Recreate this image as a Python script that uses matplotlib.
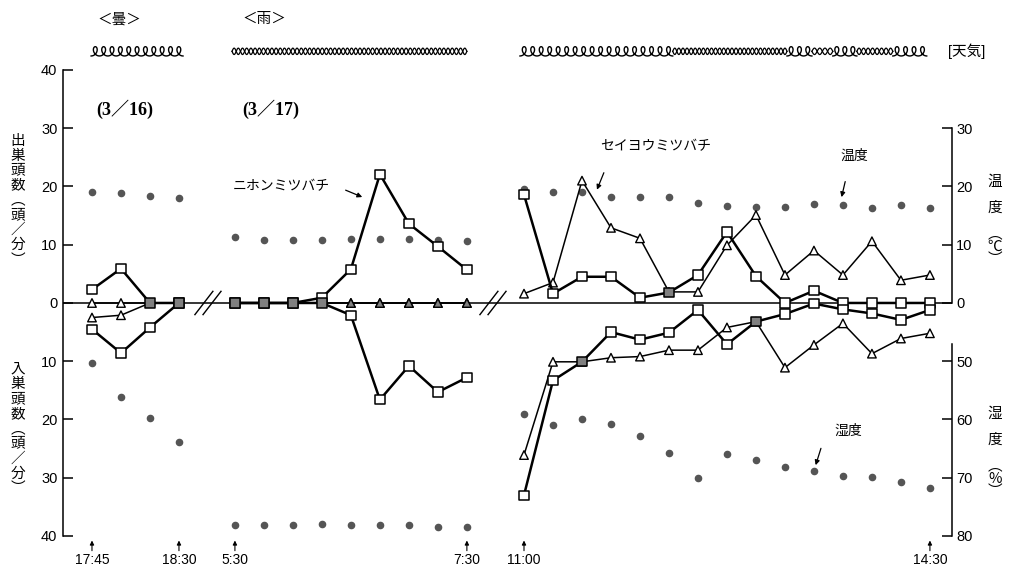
import numpy as np
import matplotlib
matplotlib.use("Agg")
import matplotlib.pyplot as plt

plt.rcParams["font.family"] = ["Liberation Sans", "Noto Sans CJK JP", "DejaVu Sans"]

# readings every 15 minutes
times_0316 = ["17:45", "18:00", "18:15", "18:30"]
times_0317am = ["5:30", "5:45", "6:00", "6:15", "6:30", "6:45", "7:00", "7:15", "7:30"]
times_0317pm = ["11:00", "11:15", "11:30", "11:45", "12:00", "12:15", "12:30", "12:45",
                "13:00", "13:15", "13:30", "13:45", "14:00", "14:15", "14:30"]

# ニホンミツバチ (squares), bees per minute leaving / entering the hive
nihon_out_0316 = [2.3, 5.9, 0, 0]
nihon_in_0316 = [4.5, 8.6, 4.2, 0]
nihon_out_0317am = [0, 0, 0, 0.9, 5.8, 22.1, 13.6, 9.7, 5.7]
nihon_in_0317am = [0, 0, 0, 0, 2.1, 16.6, 10.8, 15.3, 12.8]
nihon_out_0317pm = [18.6, 1.6, 4.5, 4.5, 0.9, 1.8, 4.8, 12.2, 4.6, 0, 2.1, 0, 0, 0, 0]
nihon_in_0317pm = [33.0, 13.3, 10.1, 5.0, 6.3, 5.1, 1.2, 7.1, 3.2, 1.9, 0.1, 1.1, 1.8, 2.9, 1.2]

# セイヨウミツバチ (triangles)
seiyou_out_0316 = [0, 0, 0, 0]
seiyou_in_0316 = [2.5, 2.1, 0, 0]
seiyou_out_0317am = [0, 0, 0, 0, 0, 0, 0, 0, 0]
seiyou_in_0317am = [0, 0, 0, 0, 0, 0, 0, 0, 0]
seiyou_out_0317pm = [1.6, 3.5, 21.0, 12.9, 11.1, 1.9, 1.9, 9.9, 15.1, 4.8, 9.0, 4.8, 10.6, 3.9, 4.8]
seiyou_in_0317pm = [26.1, 10.1, 10.1, 9.4, 9.2, 8.1, 8.1, 4.2, 3.2, 11.1, 7.2, 3.5, 8.7, 6.1, 5.2]

# temperature (°C) and humidity (%)
temp_0316 = [19.0, 18.8, 18.4, 18.1]
temp_0317am = [11.4, 10.8, 10.8, 10.8, 10.9, 11.0, 10.9, 10.8, 10.6]
temp_0317pm = [19.5, 19.1, 19.1, 18.2, 18.2, 18.2, 17.1, 16.6, 16.5, 16.5, 17.0, 16.8, 16.3, 16.8, 16.3]
humid_0316 = [50.3, 56.1, 59.8, 63.8]
humid_0317am = [78.1, 78.1, 78.1, 78.0, 78.1, 78.1, 78.1, 78.4, 78.4]
humid_0317pm = [59.0, 61.0, 60.0, 60.7, 62.9, 65.8, 70.1, 65.9, 66.9, 68.1, 68.9, 69.7, 69.9, 70.7, 71.7]

# weather strip: (kind, start, end) on the x slot scale
weather = [("cloud", -0.03, 3.14), ("rain", 4.83, 12.93),
           ("cloud", 14.76, 20.03), ("rain", 20.03, 23.97), ("cloud", 23.97, 24.83),
           ("rain", 24.83, 25.55), ("cloud", 25.55, 26.38), ("rain", 26.38, 27.62),
           ("cloud", 27.62, 28.79)]

groups = [
    dict(times=times_0316, start=0.0,
         n_out=nihon_out_0316, n_in=nihon_in_0316, s_out=seiyou_out_0316, s_in=seiyou_in_0316,
         temp=temp_0316, humid=humid_0316),
    dict(times=times_0317am, start=4.93,
         n_out=nihon_out_0317am, n_in=nihon_in_0317am, s_out=seiyou_out_0317am, s_in=seiyou_in_0317am,
         temp=temp_0317am, humid=humid_0317am),
    dict(times=times_0317pm, start=14.9,
         n_out=nihon_out_0317pm, n_in=nihon_in_0317pm, s_out=seiyou_out_0317pm, s_in=seiyou_in_0317pm,
         temp=temp_0317pm, humid=humid_0317pm),
]

fig = plt.figure(figsize=(10.11, 5.73), dpi=100)
ax = fig.add_axes([0.0623, 0.0646, 0.8793, 0.8133])
ax_t = ax.twinx()
ax_h = ax.twinx()
ax.set_zorder(ax_h.get_zorder() + 1)
ax.patch.set_visible(False)

ax.set_xlim(-1.0, 29.66)
ax.set_ylim(-40, 40)
ax_t.set_ylim(-40, 40)
ax_h.set_ylim(80, 0)

GREY = "#808080"


def faces(own, others, tol=0.6):
    return [GREY if any(abs(v - o[i]) < tol for o in others) else "white"
            for i, v in enumerate(own)]


for g in groups:
    x = g["start"] + np.arange(len(g["times"]))
    n_out = np.array(g["n_out"], float)
    n_in = -np.array(g["n_in"], float)
    s_out = np.array(g["s_out"], float)
    s_in = -np.array(g["s_in"], float)

    for y, others in [(s_out, [s_in]), (s_in, [s_out])]:
        ax.plot(x, y, color="black", lw=1.1, zorder=2)
        ax.scatter(x, y, marker="^", s=38, facecolors=faces(y, others),
                   edgecolors="black", linewidths=1.0, zorder=3)
    for y, others in [(n_out, [n_in, s_out, s_in]), (n_in, [n_out, s_out, s_in])]:
        ax.plot(x, y, color="black", lw=1.8, zorder=4)
        ax.scatter(x, y, marker="s", s=45, facecolors=faces(y, others),
                   edgecolors="black", linewidths=1.1, zorder=5)

    ax_t.scatter(x, g["temp"], s=20, color="#555555", zorder=1)
    ax_h.scatter(x, g["humid"], s=20, color="#555555", zorder=1)

    # first / last time of each run
    for xi, label in [(x[0], g["times"][0]), (x[-1], g["times"][-1])]:
        ax.annotate("", xy=(xi, -40.3), xytext=(xi, -43.0), annotation_clip=False,
                    arrowprops=dict(arrowstyle="-|>", lw=0.8, color="black", mutation_scale=6))
        ax.text(xi, -44.2, label, ha="center", va="center", fontsize=10, clip_on=False)

# zero line with axis breaks
ax.axhline(0, color="black", lw=1.1, zorder=1)
for xb in [4.0, 13.83]:
    for dx in [-0.14, 0.14]:
        ax.plot([xb + dx - 0.31, xb + dx + 0.31], [-2.0, 2.0], color="black", lw=1.0,
                clip_on=False, zorder=6)

# weather strip: loops for cloudy, twisted pair for rain
for kind, x0, x1 in weather:
    period = 0.29
    n = max(1, int(round((x1 - x0) / period)))
    if kind == "cloud":
        t = np.linspace(np.pi, np.pi + 2 * np.pi * n, 80 * n)
        a = (x1 - x0) / (2 * np.pi * n)
        xs = x0 + a * (t - np.pi) - 0.13 * np.sin(t)
        ys = 43.2 + 0.8 * np.cos(t)
        ax.plot(xs, ys, color="black", lw=1.0, clip_on=False)
    else:
        xs = np.linspace(x0, x1, 60 * n)
        ph = 2 * np.pi * (xs - x0) / ((x1 - x0) / n)
        for sgn in [1, -1]:
            ax.plot(xs, 43.2 + sgn * 0.55 * np.sin(ph), color="black", lw=0.9, clip_on=False)

# left axis
for side in ["top", "right", "bottom"]:
    ax.spines[side].set_visible(False)
ax.spines["left"].set_bounds(-40, 40)
ax.spines["left"].set_linewidth(1.1)
ax.set_yticks(range(-40, 41, 10))
ax.set_yticklabels([str(abs(v)) for v in range(-40, 41, 10)])
ax.tick_params(axis="y", direction="in", length=7, width=1.1, labelsize=10.5, pad=4)
ax.set_xticks([])

# right axes: temperature on top, humidity below
for a_, bounds, ticks in [(ax_t, (0, 30), [0, 10, 20, 30]), (ax_h, (47, 80), [50, 60, 70, 80])]:
    for side in ["top", "left", "bottom"]:
        a_.spines[side].set_visible(False)
    a_.spines["right"].set_bounds(*bounds)
    a_.spines["right"].set_linewidth(1.1)
    a_.set_yticks(ticks)
    a_.tick_params(axis="y", direction="in", length=7, width=1.1, labelsize=10.5, pad=3)

cjk = ["Noto Sans CJK JP"]
ax.text(-2.55, 17.6, "\n".join("出巣頭数︵頭／分︶"), ha="center", va="center",
        fontsize=10.5, family=cjk, linespacing=1.08)
ax.text(-2.55, -21.6, "\n".join("入巣頭数︵頭／分︶"), ha="center", va="center",
        fontsize=10.5, family=cjk, linespacing=1.08)
ax.text(31.14, 18.6, "温\n度", ha="center", va="center", fontsize=10.5, family=cjk, linespacing=2.1)
ax.text(31.14, 9.6, "︵\n℃\n︶", ha="center", va="center", fontsize=10.5, family=cjk, linespacing=0.85)
ax.text(31.14, -21.2, "湿\n度", ha="center", va="center", fontsize=10.5, family=cjk, linespacing=2.1)
ax.text(31.14, -30.2, "︵\n%\n︶", ha="center", va="center", fontsize=10.5, family=cjk, linespacing=0.85)

ax.text(0.93, 48.7, "＜曇＞", ha="center", va="center", fontsize=10.5, family=cjk)
ax.text(5.93, 48.7, "＜雨＞", ha="center", va="center", fontsize=10.5, family=cjk)
ax.text(30.17, 43.2, "[天気]", ha="center", va="center", fontsize=10.5)
ax.text(1.14, 33.3, "(3／16)", ha="center", va="center", fontsize=13, fontweight="bold",
        family=["Liberation Serif", "Noto Sans CJK JP"])
ax.text(6.17, 33.3, "(3／17)", ha="center", va="center", fontsize=13, fontweight="bold",
        family=["Liberation Serif", "Noto Sans CJK JP"])

pointers = [("ニホンミツバチ", (6.52, 20.1), (8.66, 19.55), (9.41, 18.0)),
            ("セイヨウミツバチ", (19.45, 26.9), (17.69, 22.8), (17.38, 19.0)),
            ("温度", (26.28, 25.2), (26.0, 21.3), (25.83, 17.7)),
            ("湿度", (26.07, -22.0), (25.17, -24.5), (24.93, -28.3))]
for label, pos, tail, head in pointers:
    ax.text(*pos, label, ha="center", va="center", fontsize=10, family=cjk)
    ax.annotate("", xy=head, xytext=tail,
                arrowprops=dict(arrowstyle="-|>", lw=0.9, color="black", mutation_scale=7))

fig.savefig("out.png", dpi=100)
